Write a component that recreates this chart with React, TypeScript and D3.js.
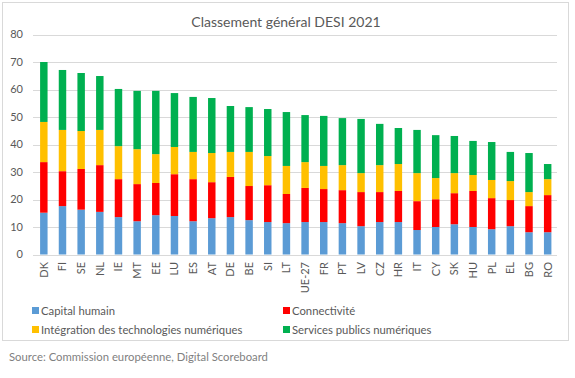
import React from "react";
import * as d3 from "d3";

const categories = ["DK","FI","SE","NL","IE","MT","EE","LU","ES","AT","DE","BE","SI","LT","UE-27","FR","PT","LV","CZ","HR","IT","CY","SK","HU","PL","EL","BG","RO"];
const capitalHumain = [15.2,17.6,16.3,15.5,13.6,12.1,14.3,14.0,12.1,13.2,13.6,12.5,11.8,11.4,11.8,11.8,11.4,10.3,11.8,11.8,8.9,10.0,11.0,10.0,9.2,10.3,8.1,8.1];
const connectivite = [18.4,12.7,14.8,17.0,13.8,13.5,11.7,15.2,15.3,13.1,14.6,12.4,13.4,10.6,12.4,12.0,12.0,12.4,10.9,11.3,10.5,10.1,11.3,13.1,11.3,9.5,9.5,13.5];
const integration = [14.6,15.0,13.8,12.8,12.0,12.7,10.5,9.9,9.9,10.6,9.1,12.4,10.6,10.2,9.4,8.4,9.1,6.9,9.8,9.8,10.2,7.7,7.3,5.8,6.6,6.9,5.1,5.8];
const servicesPublics = [21.8,21.8,21.1,19.6,20.8,21.2,23.0,19.6,20.0,20.0,16.7,16.3,17.1,19.6,17.1,18.2,17.1,19.7,15.0,13.1,15.7,15.6,13.5,12.4,13.8,10.6,14.2,5.5];
const seriesNames = ["Capital humain","Connectivité","Intégration des technologies numériques","Services publics numériques"];
const seriesColors = ["#5b9bd5","#ff0000","#ffc000","#00b050"];
const yTicks = [0,10,20,30,40,50,60,70,80];

const FONT = "Lato, 'Liberation Sans', sans-serif";

export default function App() {
  const W = 575, H = 378;
  const x = d3.scaleBand<string>().domain(categories).range([34.5, 557]).paddingInner(0.6).paddingOuter(0.3);
  const y = d3.scaleLinear().domain([0, 80]).range([254.5, 34.5]);
  const rows = categories.map((c, i) => ({
    cat: c,
    s0: capitalHumain[i],
    s1: connectivite[i],
    s2: integration[i],
    s3: servicesPublics[i],
  }));
  const stack = d3.stack<any>().keys(["s0","s1","s2","s3"]);
  const layers = stack(rows);

  const legendItems = [
    { x: 32, y: 311 },
    { x: 283, y: 311 },
    { x: 32, y: 330 },
    { x: 283, y: 330 },
  ];

  return (
    <svg width={W} height={H} style={{ position: "absolute", left: 0, top: 0, background: "#fff" }} fontFamily={FONT}>
      <rect x={2.5} y={2.5} width={566} height={338} fill="#fff" stroke="#d9d9d9" />
      <text x={286} y={27} textAnchor="middle" fontSize={14} fill="#595959">Classement général DESI 2021</text>
      {yTicks.map(t => (
        <g key={t}>
          <line x1={33} x2={557} y1={Math.round(y(t)) + 0.5} y2={Math.round(y(t)) + 0.5} stroke="#d9d9d9" strokeWidth={1} />
          <text x={23} y={y(t)} dy="0.35em" textAnchor="end" fontSize={11} fill="#595959">{t}</text>
        </g>
      ))}
      {layers.map((layer, li) => (
        <g key={li} fill={seriesColors[li]}>
          {layer.map((d: any, i: number) => (
            <rect key={i} x={x(categories[i])} width={x.bandwidth()} y={y(d[1])} height={y(d[0]) - y(d[1])} />
          ))}
        </g>
      ))}
      {categories.map(c => {
        const cx = (x(c) as number) + x.bandwidth() / 2;
        return (
          <text key={c} transform={`translate(${cx + 4},262) rotate(-90)`} textAnchor="end" fontSize={11} fill="#595959">{c}</text>
        );
      })}
      {seriesNames.map((n, i) => (
        <g key={n}>
          <rect x={legendItems[i].x} y={legendItems[i].y - 4} width={7} height={7} fill={seriesColors[i]} />
          <text x={legendItems[i].x + 9} y={legendItems[i].y} dy="0.35em" fontSize={11.3} fill="#595959">{n}</text>
        </g>
      ))}
      <text x={9} y={361} fontSize={11.3} fill="#7f7f7f">Source: Commission européenne, Digital Scoreboard</text>
    </svg>
  );
}
